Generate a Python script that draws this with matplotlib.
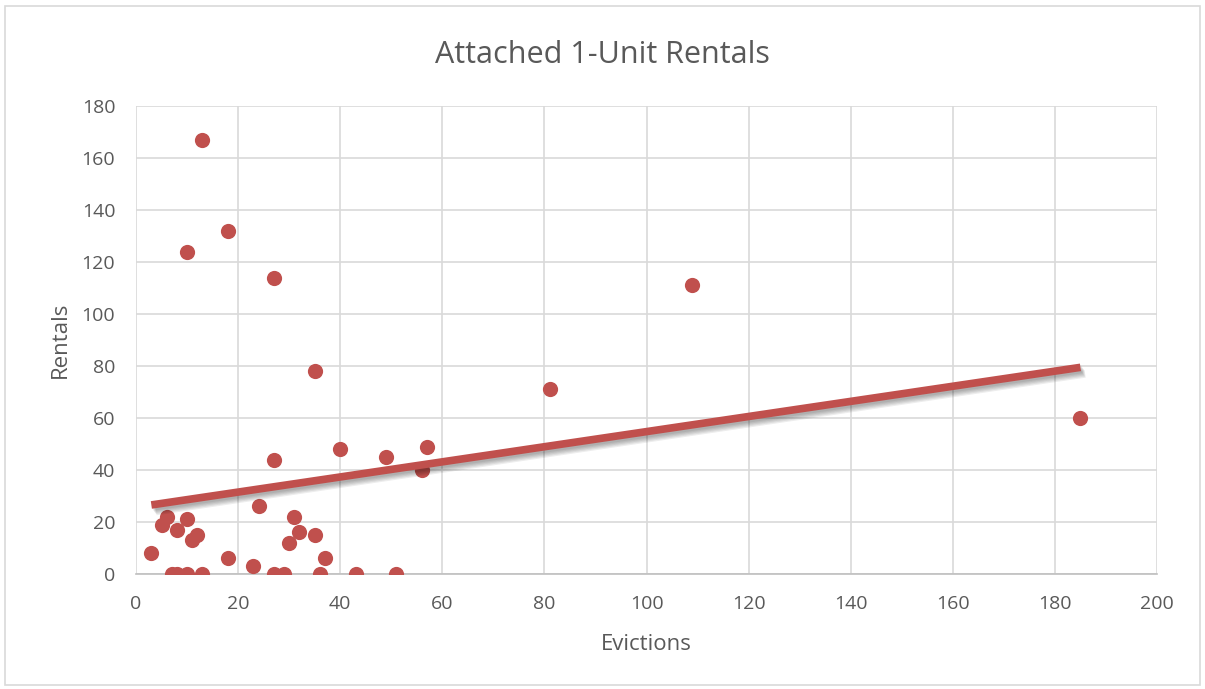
import matplotlib.pyplot as plt
import matplotlib.patheffects as pe
import numpy as np

# evictions vs rentals
evictions = [3, 5, 6, 7, 8, 8, 10, 10, 11, 12, 13, 13, 10, 18, 18, 23, 24, 27, 27, 27,
             29, 30, 31, 32, 35, 35, 36, 37, 40, 43, 49, 51, 56, 57, 81, 109, 185]
rentals = [8, 19, 22, 0, 0, 17, 0, 21, 13, 15, 0, 167, 124, 132, 6, 3, 26, 114, 44, 0,
           0, 12, 22, 16, 15, 78, 0, 6, 48, 0, 45, 0, 40, 49, 71, 111, 60]
x_ticks = list(range(0, 201, 20))
y_ticks = list(range(0, 181, 20))

red = '#C0504D'
grey_text = '#595959'
font = 'Open Sans'

fig = plt.figure(figsize=(12.05, 6.89), dpi=100)
ax = fig.add_axes([0.1129, 0.1669, 0.8473, 0.6793])

ax.scatter(evictions, rentals, s=120, color=red, zorder=3, linewidths=0)

# linear trendline with a soft shadow (a few faint offset copies)
slope, intercept = np.polyfit(evictions, rentals, 1)
tx = np.array([min(evictions), max(evictions)])
shadows = [pe.SimpleLineShadow(offset=(1 + 0.6 * i, -1.5 - 0.8 * i), shadow_color='black',
                               alpha=0.07) for i in range(5)]
ax.plot(tx, slope * tx + intercept, color=red, lw=5.5, solid_capstyle='butt', zorder=4,
        path_effects=shadows + [pe.Normal()])

ax.set_xlim(0, 200)
ax.set_ylim(0, 180)
ax.set_xticks(x_ticks)
ax.set_yticks(y_ticks)
ax.grid(True, color='#D9D9D9', lw=1.2)
ax.set_axisbelow(True)
ax.tick_params(axis='x', length=0, labelsize=14, labelcolor=grey_text, pad=15)
ax.tick_params(axis='y', length=0, labelsize=14, labelcolor=grey_text, pad=15)
for lab in ax.get_xticklabels() + ax.get_yticklabels():
    lab.set_family(font)
for side in ['top', 'right', 'left']:
    ax.spines[side].set_visible(False)
ax.spines['bottom'].set_color('#BFBFBF')
ax.spines['bottom'].set_linewidth(1.2)

ax.set_xlabel('Evictions', fontsize=16, color=grey_text, family=font, labelpad=15)
ax.set_ylabel('Rentals', fontsize=16, color=grey_text, family=font, labelpad=8)
fig.text(0.5, 0.92, 'Attached 1-Unit Rentals', ha='center', va='center',
         fontsize=22, color=grey_text, family=font)

# chart border
fig.patches.append(plt.Rectangle((0.004, 0.006), 0.992, 0.985, transform=fig.transFigure,
                                 fill=False, edgecolor='#D9D9D9', lw=1.2))

fig.savefig('out.png', dpi=100)
